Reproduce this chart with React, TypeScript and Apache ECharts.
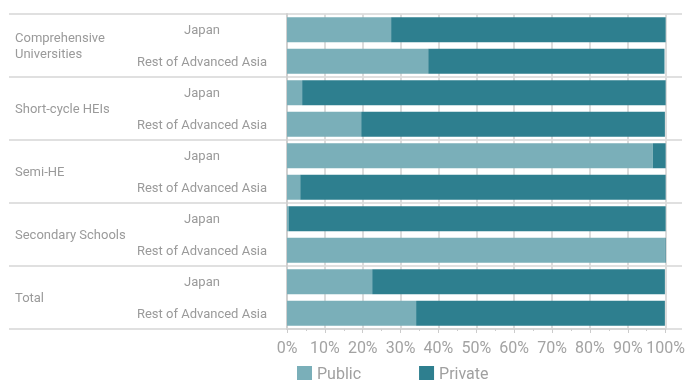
import React, { useEffect, useRef } from "react";
import * as echarts from "echarts";

const groups = [
  "Comprehensive\nUniversities",
  "Short-cycle HEIs",
  "Semi-HE",
  "Secondary Schools",
  "Total",
];
const regions = ["Japan", "Rest of Advanced Asia"];
const rowLabels = groups.flatMap(() => regions);
const publicShare = [27.5, 37.3, 4.0, 19.6, 96.6, 3.5, 0.4, 99.8, 22.5, 34.1];
const privateShare = [72.5, 62.4, 96.0, 80.2, 3.4, 96.5, 99.6, 0.5, 77.3, 65.7];
const xTicks = { min: 0, max: 100, interval: 10 };

const FONT = "Roboto, 'Noto Sans', sans-serif";
const TEXT = "#9a9a9a";

export default function App() {
  const ref = useRef<HTMLDivElement>(null);
  useEffect(() => {
    if (!ref.current) return;
    const chart = echarts.init(ref.current, undefined, { renderer: "svg" });
    chart.setOption({
      animation: false,
      textStyle: { fontFamily: FONT },
      grid: [
        { left: 9, right: 6, top: 14, bottom: 52 },
        { left: 287, right: 22, top: 14, bottom: 52 },
      ],
      legend: {
        left: 297,
        top: 365,
        padding: 0,
        itemWidth: 15,
        itemHeight: 14,
        itemGap: 58,
        icon: "rect",
        textStyle: { fontSize: 16, color: "#a0a0a0", fontFamily: FONT },
        data: ["Public", "Private"],
      },
      xAxis: [
        {
          gridIndex: 0,
          type: "value",
          show: false,
        },
        {
          gridIndex: 1,
          type: "value",
          min: xTicks.min,
          max: xTicks.max,
          interval: xTicks.interval,
          axisLine: { show: true, lineStyle: { color: "#d4d4d4", width: 2 } },
          axisTick: { show: true, length: 4, lineStyle: { color: "#cccccc" } },
          minorTick: { show: true, splitNumber: 2, length: 2, lineStyle: { color: "#cccccc" } },
          splitLine: { show: true, lineStyle: { color: "#dcdcdc", width: 2 } },
          axisLabel: {
            formatter: "{value}%",
            fontSize: 16,
            color: "#a3a3a3",
            margin: 10,
            fontFamily: FONT,
          },
        },
      ],
      yAxis: [
        {
          gridIndex: 0,
          type: "category",
          inverse: true,
          data: groups,
          axisLine: { show: false },
          axisTick: { show: false },
          splitLine: { show: true, lineStyle: { color: "#e0e0e0", width: 2 } },
          axisLabel: {
            inside: true,
            align: "left",
            margin: 6,
            fontSize: 13,
            lineHeight: 16,
            color: TEXT,
            fontFamily: FONT,
          },
        },
        {
          gridIndex: 1,
          type: "category",
          inverse: true,
          data: rowLabels,
          axisLine: { show: true, lineStyle: { color: "#d0d0d0", width: 2 } },
          axisTick: { show: false },
          splitLine: { show: false },
          axisLabel: {
            align: "center",
            margin: 85,
            fontSize: 13,
            color: TEXT,
            fontFamily: FONT,
          },
        },
      ],
      series: [
        {
          name: "Public",
          type: "bar",
          stack: "share",
          xAxisIndex: 1,
          yAxisIndex: 1,
          barWidth: 25,
          itemStyle: { color: "#7aafb9" },
          data: publicShare,
        },
        {
          name: "Private",
          type: "bar",
          stack: "share",
          xAxisIndex: 1,
          yAxisIndex: 1,
          barWidth: 25,
          itemStyle: { color: "#2e7f8f" },
          data: privateShare,
        },
      ],
    });
    return () => chart.dispose();
  }, []);
  return (
    <div
      ref={ref}
      style={{ position: "fixed", left: 0, top: 0, width: 688, height: 381 }}
    />
  );
}
